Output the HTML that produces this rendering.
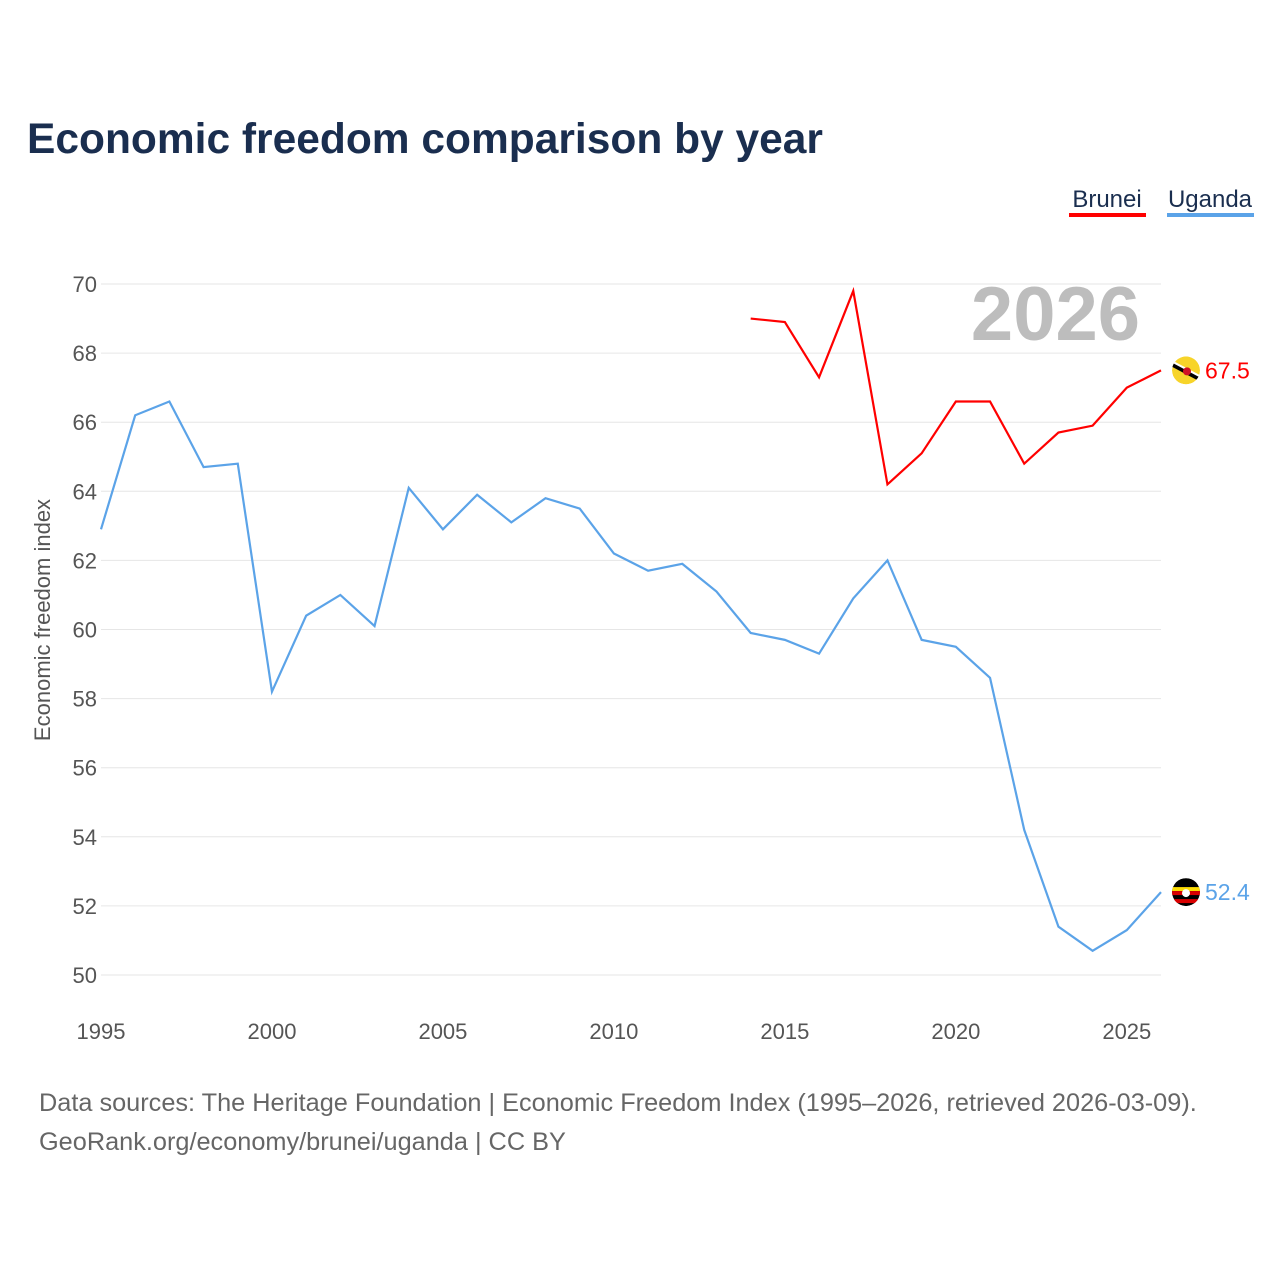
<!DOCTYPE html>
<html><head><meta charset="utf-8"><style>
body{margin:0;background:#fff;font-family:"Liberation Sans",sans-serif}
</style></head><body>
<svg width="1280" height="1280" viewBox="0 0 1280 1280" xmlns="http://www.w3.org/2000/svg" font-family="Liberation Sans, sans-serif">
<defs>
<clipPath id="cu"><circle cx="1186" cy="892" r="14"/></clipPath>
<clipPath id="cb"><circle cx="1186" cy="370" r="14"/></clipPath>
</defs>
<text x="27" y="153" font-size="42.5" font-weight="bold" fill="#1a2e4f">Economic freedom comparison by year</text>
<g>
<text x="1107" y="207" font-size="24" fill="#1a2e4f" text-anchor="middle">Brunei</text>
<rect x="1069" y="213" width="77" height="4" fill="#ff0000"/>
<text x="1210" y="207" font-size="24" fill="#1a2e4f" text-anchor="middle">Uganda</text>
<rect x="1167" y="213" width="87" height="4" fill="#5ba3e8"/>
</g>
<g id="grid"></g>
<g id="xt"></g>
<text x="1140" y="340" font-size="76" font-weight="bold" fill="#bdbdbd" text-anchor="end">2026</text>
<text transform="translate(50,620) rotate(-90)" font-size="22" fill="#555" text-anchor="middle">Economic freedom index</text>
<g id="series"></g>
<text x="39" y="1111" font-size="25.3" fill="#666">Data sources: The Heritage Foundation | Economic Freedom Index (1995–2026, retrieved 2026-03-09).</text>
<text x="39" y="1150" font-size="25.3" fill="#666">GeoRank.org/economy/brunei/uganda | CC BY</text>
</svg>
<script>
const yTicks=[50,52,54,56,58,60,62,64,66,68,70];
const xTicks=[1995,2000,2005,2010,2015,2020,2025];
const ugandaYears=[1995,1996,1997,1998,1999,2000,2001,2002,2003,2004,2005,2006,2007,2008,2009,2010,2011,2012,2013,2014,2015,2016,2017,2018,2019,2020,2021,2022,2023,2024,2025,2026];
const ugandaValues=[62.9,66.2,66.6,64.7,64.8,58.2,60.4,61.0,60.1,64.1,62.9,63.9,63.1,63.8,63.5,62.2,61.7,61.9,61.1,59.9,59.7,59.3,60.9,62.0,59.7,59.5,58.6,54.2,51.4,50.7,51.3,52.4];
const bruneiYears=[2014,2015,2016,2017,2018,2019,2020,2021,2022,2023,2024,2025,2026];
const bruneiValues=[69.0,68.9,67.3,69.8,64.2,65.1,66.6,66.6,64.8,65.7,65.9,67.0,67.5];
const NS="http://www.w3.org/2000/svg";
const X=y=>101+(y-1995)*(1060/31);
const Y=v=>975-(v-50)*(691/20);
function mk(t,a,p){const e=document.createElementNS(NS,t);for(const k in a)e.setAttribute(k,a[k]);p.appendChild(e);return e;}
const g=document.getElementById('grid');
yTicks.forEach(v=>{
 const l=mk('line',{x1:101,x2:1161,y1:Y(v),y2:Y(v),stroke:'#e6e6e6','stroke-width':1},g);
 
 
 const t=mk('text',{x:97,y:Y(v)+8,'font-size':22,fill:'#555','text-anchor':'end'},g);t.textContent=v;
 
 
});
const xt=document.getElementById('xt');
xTicks.forEach(v=>{
 const t=mk('text',{x:X(v),y:1039,'font-size':22,fill:'#555','text-anchor':'middle'},xt);t.textContent=v;
 
 
});
const s=document.getElementById('series');
function line(ys,vs,c,name){
 const p=mk('polyline',{points:ys.map((y,i)=>X(y)+','+Y(vs[i])).join(' '),fill:'none',stroke:c,'stroke-width':2.2},s);
 
 
 const lv=vs[vs.length-1],ly=Y(lv);
 const fg=mk('g',{'clip-path':name==='brunei'?'url(#cb)':'url(#cu)',transform:'translate(0,'+(ly-(name==='brunei'?370:892))+')'},s);
 
 
 const cy=name==='brunei'?370:892;
 mk('circle',{cx:1186,cy:cy,r:14,fill:name==='brunei'?'#f7d42a':'#000'},fg);
 if(name==='uganda'){
  mk('rect',{x:1170,y:cy-5,width:32,height:4,fill:'#fcdc04'},fg);
  mk('rect',{x:1170,y:cy-1,width:32,height:4,fill:'#d90000'},fg);
  mk('rect',{x:1170,y:cy+7,width:32,height:4,fill:'#d90000'},fg);
  mk('circle',{cx:1186,cy:cy+1,r:4,fill:'#fff'},fg);
 } else {
  mk('line',{x1:1170,y1:cy-7,x2:1202,y2:cy+10,stroke:'#000','stroke-width':4},fg);
  mk('line',{x1:1170,y1:cy-10,x2:1202,y2:cy+7,stroke:'#fff','stroke-width':2},fg);
  mk('circle',{cx:1187,cy:cy+1,r:4,fill:'#cf1126'},fg);
 }
 const t=mk('text',{x:1205,y:ly+8,'font-size':23,fill:c},s);t.textContent=lv.toFixed(1);
 
 
}
line(ugandaYears,ugandaValues,'#5ba3e8','uganda');
line(bruneiYears,bruneiValues,'#ff0000','brunei');
</script>
</body></html>
